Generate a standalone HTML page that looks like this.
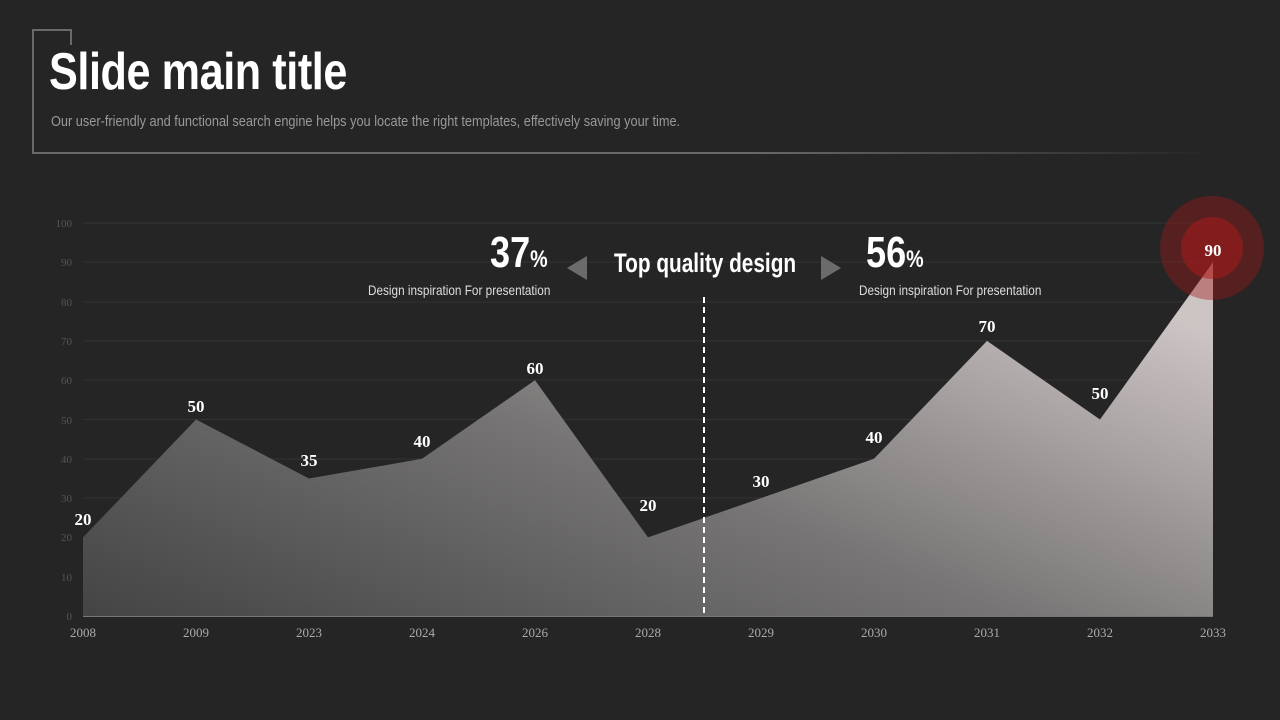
<!DOCTYPE html>
<html><head><style>
body{margin:0;background:#252525;width:1280px;height:720px;overflow:hidden;position:relative;font-family:"Liberation Sans Narrow","Liberation Sans",sans-serif}
.c{position:absolute;color:#fff;white-space:nowrap}
</style></head><body>
<div style="position:absolute;left:32px;top:29px;width:38px;height:123px;border-left:2px solid #6a6a6a;border-top:2px solid #6a6a6a"></div>
<div style="position:absolute;left:70px;top:29px;width:2px;height:16px;background:#6a6a6a"></div>
<div style="position:absolute;left:32px;top:152px;width:1180px;height:2px;background:linear-gradient(90deg,#6a6a6a,#6a6a6a 60%,rgba(100,100,100,0))"></div>
<div class="c" style="left:49px;top:42px;font-size:52px;font-weight:bold;letter-spacing:-0.5px;transform:scaleX(0.83);transform-origin:left">Slide main title</div>
<div class="c" style="left:51px;top:113px;font-size:15px;color:#999;transform:scaleX(0.85);transform-origin:left">Our user-friendly and functional search engine helps you locate the right templates, effectively saving your time.</div>
<svg width="1280" height="720" style="position:absolute;left:0;top:0">
<defs><linearGradient id="g" x1="0" y1="1" x2="1" y2="0.2"><stop offset="0" stop-color="#444"/><stop offset="0.5" stop-color="#767474"/><stop offset="1" stop-color="#cdc4c4"/></linearGradient></defs>
<g stroke="#333" stroke-width="1">
<line x1="83" x2="1213" y1="223" y2="223"/><line x1="83" x2="1213" y1="262" y2="262"/><line x1="83" x2="1213" y1="302" y2="302"/><line x1="83" x2="1213" y1="341" y2="341"/><line x1="83" x2="1213" y1="380" y2="380"/><line x1="83" x2="1213" y1="419.5" y2="419.5"/><line x1="83" x2="1213" y1="459" y2="459"/><line x1="83" x2="1213" y1="498" y2="498"/><line x1="83" x2="1213" y1="537.5" y2="537.5"/><line x1="83" x2="1213" y1="577" y2="577"/>
</g>
<polygon fill="url(#g)" points="83,616 83,537.4 196,419.5 309,478.5 422,458.8 535,380.2 648,537.4 761,498.1 874,458.8 987,340.9 1100,419.5 1213,262.3 1213,616"/>
<line x1="83" x2="1213" y1="616.5" y2="616.5" stroke="#777"/>
<line x1="704" x2="704" y1="297" y2="616" stroke="#fff" stroke-width="2" stroke-dasharray="6,4"/>
<circle cx="1212" cy="248" r="52" fill="#a01818" opacity="0.4"/>
<circle cx="1212" cy="248" r="31" fill="#b01a1a" opacity="0.5"/>
<g fill="#555" font-family="Liberation Serif" font-size="11" text-anchor="end">
<text x="72" y="227">100</text><text x="72" y="266">90</text><text x="72" y="306">80</text><text x="72" y="345">70</text><text x="72" y="384">60</text><text x="72" y="424">50</text><text x="72" y="463">40</text><text x="72" y="502">30</text><text x="72" y="541">20</text><text x="72" y="581">10</text><text x="72" y="620">0</text>
</g>
<g fill="#aaa" font-family="Liberation Serif" font-size="13" text-anchor="middle">
<text x="83" y="637">2008</text><text x="196" y="637">2009</text><text x="309" y="637">2023</text><text x="422" y="637">2024</text><text x="535" y="637">2026</text><text x="648" y="637">2028</text><text x="761" y="637">2029</text><text x="874" y="637">2030</text><text x="987" y="637">2031</text><text x="1100" y="637">2032</text><text x="1213" y="637">2033</text>
</g>
<g fill="#fff" font-family="Liberation Serif" font-size="17" font-weight="bold" text-anchor="middle">
<text x="83" y="525">20</text><text x="196" y="412">50</text><text x="309" y="466">35</text><text x="422" y="447">40</text><text x="535" y="374">60</text><text x="648" y="511">20</text><text x="761" y="487">30</text><text x="874" y="443">40</text><text x="987" y="332">70</text><text x="1100" y="399">50</text><text x="1213" y="256">90</text>
</g>
<polygon points="567,268 587,256 587,280" fill="#6b6b6b"/>
<polygon points="841,268 821,256 821,280" fill="#6b6b6b"/>
</svg>
<div class="c" style="left:490px;top:228px;font-size:44px;font-weight:bold;transform:scaleX(0.82);transform-origin:left">37<span style="font-size:24px">%</span></div>
<div class="c" style="left:866px;top:228px;font-size:44px;font-weight:bold;transform:scaleX(0.82);transform-origin:left">56<span style="font-size:24px">%</span></div>
<div class="c" style="left:614px;top:248px;font-size:27px;font-weight:bold;transform:scaleX(0.77);transform-origin:left">Top quality design</div>
<div class="c" style="left:368px;top:282px;font-size:14px;color:#ddd;transform:scaleX(0.84);transform-origin:left">Design inspiration For presentation</div>
<div class="c" style="left:859px;top:282px;font-size:14px;color:#ddd;transform:scaleX(0.84);transform-origin:left">Design inspiration For presentation</div>
</body></html>
